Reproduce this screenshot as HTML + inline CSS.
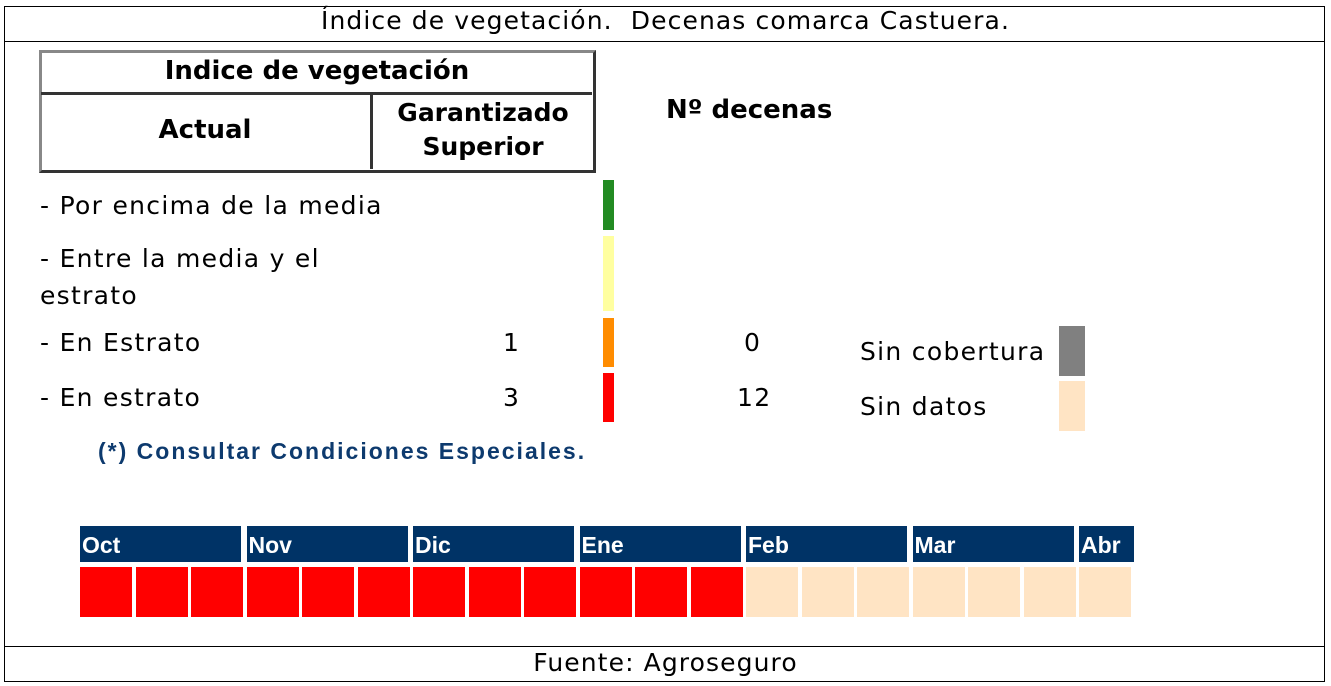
<!DOCTYPE html>
<html><head><meta charset="utf-8"><style>
body{margin:0;width:1331px;height:686px;background:#fff;position:relative;overflow:hidden;font-family:"DejaVu Sans","Liberation Sans",sans-serif;color:#000}
.a{position:absolute}
.t{font-size:25px;white-space:nowrap;letter-spacing:1.3px}
.b{font-weight:bold;font-family:"DejaVu Sans",sans-serif;white-space:nowrap}
</style></head><body>
<div class="a" style="left:4px;top:6px;width:1319px;height:674px;border:1px solid #000"></div>
<div class="a" style="left:4px;top:41px;width:1321px;height:1px;background:#000"></div>
<div class="a" style="left:4px;top:646px;width:1321px;height:1px;background:#000"></div>
<div class="a t" style="left:0;width:1331px;text-align:center;top:6px;font-size:25px;letter-spacing:1.1px">Índice de vegetación.&nbsp; Decenas comarca Castuera.</div>
<div class="a t" style="left:0;width:1331px;text-align:center;top:648px;font-size:25px;letter-spacing:1.1px">Fuente: Agroseguro</div>

<div class="a" style="left:39px;top:50px;width:551px;height:117px;border:3px solid #333;border-color:#888 #333 #333 #888"></div>
<div class="a" style="left:41px;top:92px;width:551px;height:3px;background:#333"></div>
<div class="a" style="left:370px;top:93px;width:3px;height:76px;background:#333"></div>
<div class="a b" style="left:39px;width:556px;text-align:center;top:56px;font-size:26px">Indice de vegetación</div>
<div class="a b" style="left:39px;width:332px;text-align:center;top:115px;font-size:26px">Actual</div>
<div class="a b" style="left:373px;width:220px;text-align:center;top:96px;font-size:25px;line-height:34px">Garantizado<br>Superior</div>
<div class="a b" style="left:666px;top:95px;font-size:26px">Nº decenas</div>

<div class="a t" style="left:40px;top:191px">- Por encima de la media</div>
<div class="a t" style="left:40px;top:240px;line-height:37px">- Entre la media y el<br>estrato</div>
<div class="a t" style="left:40px;top:328px">- En Estrato</div>
<div class="a t" style="left:40px;top:383px">- En estrato</div>
<div class="a t" style="left:503px;top:328px">1</div>
<div class="a t" style="left:503px;top:383px">3</div>
<div class="a t" style="left:744px;top:328px">0</div>
<div class="a t" style="left:737px;top:383px">12</div>
<div class="a t" style="left:860px;top:337px">Sin cobertura</div>
<div class="a t" style="left:860px;top:392px">Sin datos</div>
<div class="a" style="left:603px;top:180px;width:11px;height:50px;background:#228b22"></div>
<div class="a" style="left:603px;top:236px;width:11px;height:75px;background:#ffffa0"></div>
<div class="a" style="left:603px;top:318px;width:11px;height:49px;background:#ff8c00"></div>
<div class="a" style="left:603px;top:373px;width:11px;height:49px;background:#ff0000"></div>
<div class="a" style="left:1059px;top:326px;width:26px;height:50px;background:#808080"></div>
<div class="a" style="left:1059px;top:381px;width:26px;height:50px;background:#ffe4c4"></div>
<div class="a" style="left:98px;top:438px;font-size:23px;font-weight:bold;font-family:'Liberation Sans',sans-serif;letter-spacing:2px;white-space:nowrap;color:#0d3a6e">(*) Consultar Condiciones Especiales.</div>
<div id="cal"></div>
<script>
var m=["Oct","Nov","Dic","Ene","Feb","Mar","Abr"],h="";
for(var i=0;i<7;i++){var x=80+i*166.5,w=i==6?55:161;
h+='<div class="a" style="left:'+x+'px;top:526px;width:'+w+'px;height:36px;background:#003366;color:#fff;font-weight:bold;font-family:Liberation Sans,sans-serif;font-size:23px;line-height:38px;padding-left:2px;box-sizing:border-box">'+m[i]+'</div>';
var n=i==6?1:3;for(var j=0;j<n;j++){var c=i<4?'#ff0000':'#ffe4c4';
h+='<div class="a" style="left:'+(x+j*55.5)+'px;top:567px;width:52px;height:50px;background:'+c+'"></div>';}}
document.getElementById('cal').innerHTML=h;
</script>
</body></html>
